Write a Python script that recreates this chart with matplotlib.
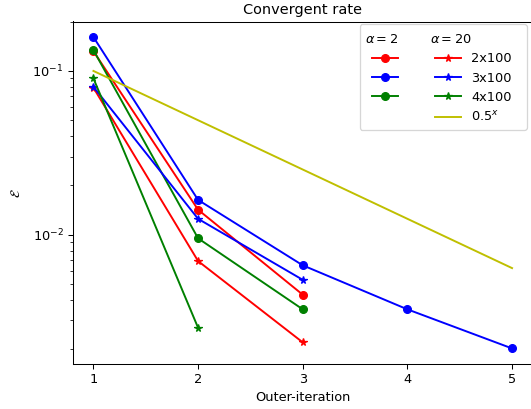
import matplotlib
matplotlib.use("Agg")
import matplotlib.pyplot as plt
from matplotlib.offsetbox import DrawingArea

# data
iters_a = [1, 2, 3]
iters_b = [1, 2, 3, 4, 5]
iters_c = [1, 2]

alpha2_2x100 = [0.132, 0.0142, 0.0043]
alpha2_3x100 = [0.161, 0.0163, 0.0065, 0.0035, 0.00202]
alpha2_4x100 = [0.134, 0.0095, 0.0035]

alpha20_2x100 = [0.079, 0.0069, 0.0022]
alpha20_3x100 = [0.080, 0.0125, 0.0053]
alpha20_4x100 = [0.090, 0.0027]

ref_x = [1, 2, 3, 4, 5]
ref_y = [0.1, 0.05, 0.025, 0.0125, 0.00625]

W, H = 531, 409
DPI = 92.7
fig = plt.figure(figsize=(W / DPI, H / DPI), dpi=DPI)
ax = fig.add_axes([72.5 / W, 1 - 364 / H, (533 - 72.5) / W, (364 - 21.5) / H])

h_head1, = ax.plot([], [], ' ', label=r'$\alpha=2$')
h1, = ax.plot(iters_a, alpha2_2x100, 'r-o', label=' ')
h2, = ax.plot(iters_b, alpha2_3x100, 'b-o', label=' ')
h3, = ax.plot(iters_a, alpha2_4x100, 'g-o', label=' ')
h_blank, = ax.plot([], [], ' ', label=' ')
h_head2, = ax.plot([], [], ' ', label=r'$\alpha=20$')
h4, = ax.plot(iters_a, alpha20_2x100, 'r-*', label='2x100')
h5, = ax.plot(iters_a, alpha20_3x100, 'b-*', label='3x100')
h6, = ax.plot(iters_c, alpha20_4x100, 'g-*', label='4x100')
h7, = ax.plot(ref_x, ref_y, 'y-', label=r'$0.5^x$')

ax.set_yscale('log')
ax.set_xticks([1, 2, 3, 4, 5])
ax.set_xlabel('Outer-iteration')
ax.set_ylabel(r'$\mathcal{E}$', labelpad=7.5)
ax.set_title('Convergent rate', fontsize=11.3)
ax.spines['right'].set_visible(False)

handles = [h_head1, h1, h2, h3, h_blank, h_head2, h4, h5, h6, h7]
labels = [h.get_label() for h in handles]
ax_w = 533 - 72.5
ax_h = 364 - 21.5
leg = ax.legend(handles, labels, ncol=2, loc='upper right',
                bbox_to_anchor=((527 - 72.5) / ax_w, (364 - 24) / ax_h),
                borderaxespad=0, columnspacing=1.4, handletextpad=0.8)

c = DPI / 72.0
shifts_px = [7, 5]
cols = leg._legend_handle_box.get_children()
header_rows = []
for ci, vpack in enumerate(cols):
    rows = vpack.get_children()
    sh = shifts_px[ci] / c
    hdr = rows[0]
    hda = hdr.get_children()[0]
    hda.set_width(0)
    hda.xdescent = sh
    hdr.sep = 0
    header_rows.append(hdr)
    for rr in rows[1:]:
        da = rr.get_children()[0]
        da.width = da.width + sh
        da.xdescent = da.xdescent + sh

# spacer in second column header to widen the legend on the right
spacer = DrawingArea(width=0, height=0)
header_rows[1].get_children().append(spacer)

fig.canvas.draw()
renderer = fig.canvas.get_renderer()

# extra room above the header row
for hdr in header_rows:
    hda = hdr.get_children()[0]
    tb = hdr.get_children()[1].get_bbox(renderer)
    hda.height = (tb.y1 + 3.5) / c + hda.ydescent

# widen column 2 by ~10 px on the right
col2_w = cols[1].get_bbox(renderer).width
hdr_w = header_rows[1].get_bbox(renderer).width
need = col2_w + 10 - hdr_w
if need > 0:
    spacer.width = need / c

fig.savefig('out.png', dpi=DPI)
